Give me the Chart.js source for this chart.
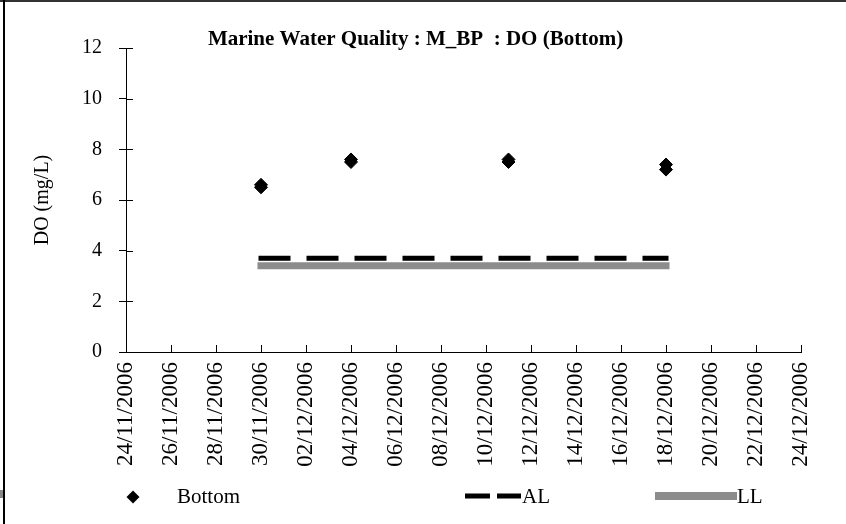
<!DOCTYPE html>
<html><head><meta charset="utf-8">
<script src="https://cdn.jsdelivr.net/npm/chart.js@4.4.1/dist/chart.umd.min.js"></script>
<style>html,body{margin:0;padding:0;background:#fff}canvas{display:block}</style>
</head><body>
<canvas id="c" width="846" height="524"></canvas>
<script>
const titleText = 'Marine Water Quality : M_BP  : DO (Bottom)';
const yAxisTitle = 'DO (mg/L)';
const startDate = '24/11/2006';
const endDate = '24/12/2006';
const sampleDates = ['30/11/2006','30/11/2006','04/12/2006','04/12/2006','11/12/2006','11/12/2006','18/12/2006','18/12/2006'];
const bottomValues = [6.6, 6.5, 7.6, 7.5, 7.6, 7.5, 7.4, 7.2];
const limitDates = ['30/11/2006','18/12/2006'];
const alValues = [3.7, 3.7];
const llValues = [3.4, 3.4];
const yTickValues = [0, 2, 4, 6, 8, 10, 12];
const seriesNames = ['Bottom', 'AL', 'LL'];

const FONT = "'Liberation Serif', 'Times New Roman', serif";
const DAY = 86400000;
function parseDate(s){ const [d,m,y] = s.split('/').map(Number); return Date.UTC(y, m-1, d); }
const t0 = parseDate(startDate);
function dayOf(s){ return Math.round((parseDate(s) - t0) / DAY); }
function fmt(n){ const d = new Date(t0 + n*DAY); return String(d.getUTCDate()).padStart(2,'0') + '/' + String(d.getUTCMonth()+1).padStart(2,'0') + '/' + d.getUTCFullYear(); }

const decor = {
  id: 'decor',
  afterLayout(chart){
    const tb = chart.titleBlock;
    if (tb) { const h = tb.bottom - tb.top; tb.left = 30; tb.right = 801; tb.width = 771; tb.top = 27.4; tb.bottom = 27.4 + h; }
  },
  afterDraw(chart){
    const ctx = chart.ctx;
    const ca = chart.chartArea;
    ctx.save();
    // inward tick marks
    ctx.strokeStyle = '#000'; ctx.lineWidth = 1; ctx.beginPath();
    const xs = chart.scales.x, ys = chart.scales.y;
    xs.ticks.forEach(t => { const px = Math.round(xs.getPixelForValue(t.value)) + 0.5; ctx.moveTo(px, ca.bottom); ctx.lineTo(px, ca.bottom - 7); });
    ys.ticks.forEach(t => { const py = Math.round(ys.getPixelForValue(t.value)) + 0.5; ctx.moveTo(ca.left, py); ctx.lineTo(ca.left + 7, py); });
    ctx.stroke();
    // frame
    ctx.fillStyle = '#333'; ctx.fillRect(0, 0, 846, 2);
    ctx.fillStyle = '#000'; ctx.fillRect(3, 0, 2, 524);
    ctx.fillStyle = '#888'; ctx.fillRect(0, 490, 3, 8);
    // legend
    const ly = 497;
    ctx.fillStyle = '#000';
    ctx.beginPath(); ctx.moveTo(133, ly-6.5); ctx.lineTo(139.5, ly); ctx.lineTo(133, ly+6.5); ctx.lineTo(126.5, ly); ctx.closePath(); ctx.fill();
    ctx.font = '21px ' + FONT; ctx.textBaseline = 'middle'; ctx.textAlign = 'left';
    ctx.fillText(seriesNames[0], 177, ly);
    ctx.strokeStyle = '#000'; ctx.lineWidth = 5; ctx.setLineDash([25, 7]);
    ctx.beginPath(); ctx.moveTo(465, ly-1); ctx.lineTo(521, ly-1); ctx.stroke();
    ctx.setLineDash([]);
    ctx.fillText(seriesNames[1], 522, ly);
    ctx.fillStyle = '#8c8c8c'; ctx.fillRect(655, ly-5, 82, 8);
    ctx.fillStyle = '#000';
    ctx.fillText(seriesNames[2], 737, ly);
    ctx.restore();
  }
};

const xMax = dayOf(endDate);

new Chart(document.getElementById('c'), {
  type: 'scatter',
  data: {
    datasets: [
      { label: seriesNames[0], data: sampleDates.map((d,i)=>({x: dayOf(d), y: bottomValues[i]})),
        pointStyle: 'rectRot', pointRadius: 6.5, pointHoverRadius: 6.5, backgroundColor: '#000', borderColor: '#000', borderWidth: 1 },
      { label: seriesNames[1], data: limitDates.map((d,i)=>({x: dayOf(d), y: alValues[i]})),
        showLine: true, pointRadius: 0, borderColor: '#000', borderWidth: 5, borderDash: [27, 21], borderCapStyle: 'square' },
      { label: seriesNames[2], data: limitDates.map((d,i)=>({x: dayOf(d), y: llValues[i]})),
        showLine: true, pointRadius: 0, borderColor: '#8c8c8c', borderWidth: 7, borderCapStyle: 'square' }
    ]
  },
  options: {
    responsive: false, animation: false, devicePixelRatio: 1,
    layout: { padding: { left: 0, right: 45, top: 22.8, bottom: 0 } },
    plugins: {
      legend: { display: false },
      tooltip: { enabled: false },
      title: { display: true, text: titleText, color: '#000', padding: 0,
        font: { family: FONT, size: 21, weight: 'bold', lineHeight: 1.2 } }
    },
    scales: {
      x: { type: 'linear', position: 'bottom', min: 0, max: xMax,
        afterFit: s => { s.height = 172; },
        ticks: { stepSize: 2, autoSkip: false, minRotation: 90, maxRotation: 90, padding: 10, color: '#000',
          font: { family: FONT, size: 23 }, callback: v => fmt(v) },
        grid: { drawOnChartArea: false, drawTicks: false },
        border: { display: true, color: '#000', width: 1 } },
      y: { type: 'linear', position: 'left', min: 0, max: 12,
        afterFit: s => { s.width = 126; },
        afterBuildTicks: s => { s.ticks = yTickValues.map(v => ({value: v})); },
        ticks: { padding: 17, color: '#000', font: { family: FONT, size: 20 } },
        grid: { drawOnChartArea: false, tickLength: 7, color: '#000' },
        border: { display: true, color: '#000', width: 1 },
        title: { display: true, text: yAxisTitle, color: '#000', font: { family: FONT, size: 20, lineHeight: 1.2 }, padding: { top: 31, bottom: 0 } } }
    }
  },
  plugins: [decor]
});
</script>
</body></html>
